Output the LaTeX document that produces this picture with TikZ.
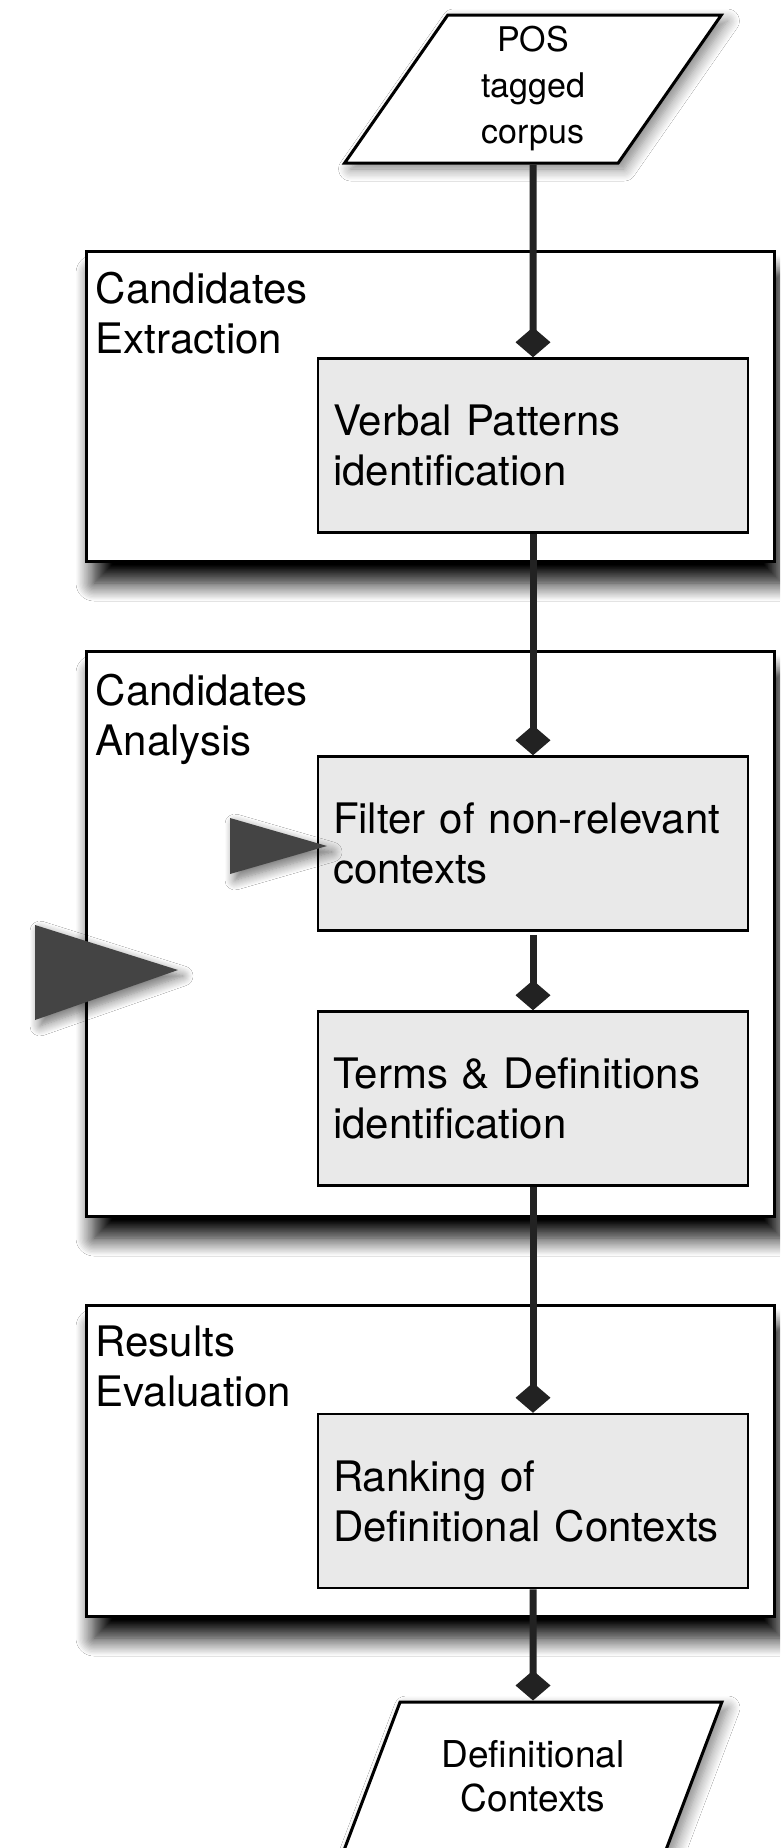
\documentclass[tikz,border=0pt]{standalone}
\usepackage{fontspec}
\setmainfont{TeX Gyre Heros}
\usepackage{tikz}
\usetikzlibrary{arrows.meta,shapes.geometric,shadows.blur}
\definecolor{taskgray}{RGB}{233,233,233}
\definecolor{flowdark}{RGB}{34,34,34}
\definecolor{pointgray}{RGB}{68,68,68}
\newcommand{\taskfont}{\fontsize{42}{50}\selectfont}
\newcommand{\infont}{\fontsize{34}{46}\selectfont}
\newcommand{\outfont}{\fontsize{37}{44}\selectfont}
\tikzset{
  stagebox/.style   = {draw=black,line width=3pt,fill=white,minimum width=688pt,inner sep=0pt,
                       blur shadow={shadow xshift=8pt,shadow yshift=-22pt,shadow blur radius=18pt,
                                    shadow blur steps=14,shadow opacity=100}},
  stagelabel/.style = {anchor=north west,inner sep=0pt,align=left,font=\taskfont},
  taskbox/.style    = {draw=black,line width=2.5pt,fill=taskgray,minimum width=430pt,minimum height=174pt,
                       text width=400pt,inner xsep=15pt,align=left,font=\taskfont},
  iobox/.style      = {trapezium,trapezium left angle=63,trapezium right angle=117,trapezium stretches=true,
                       draw=black,line width=3pt,fill=white,minimum width=378pt,minimum height=148pt,
                       align=center,
                       blur shadow={shadow xshift=6pt,shadow yshift=-6pt,shadow blur radius=12pt,
                                    shadow blur steps=10,shadow opacity=50}},
  flow/.style       = {-{Diamond[length=30pt,width=35pt]},line width=7pt,flowdark},
  pointer/.style    = {fill=pointgray,
                       blur shadow={shadow xshift=5pt,shadow yshift=-6pt,shadow blur radius=10pt,
                                    shadow blur steps=10,shadow opacity=55}}
}

\begin{document}
\begin{tikzpicture}[x=1pt,y=-1pt]
  \useasboundingbox (0,0) rectangle (780,1848);
  \fill[white] (0,0) rectangle (780,1848);
  \clip (0,0) rectangle (780,1848);

  \node[stagebox,minimum height=310pt] (ext) at (430,406) {};
  \node[stagebox,minimum height=565pt] (ana) at (430,933.5) {};
  \node[stagebox,minimum height=311pt] (eva) at (430,1460.5) {};
  \node[stagelabel] (extlabel) at ([shift={(11pt,-22pt)}]ext.north west) {Candidates\\Extraction};
  \node[stagelabel] (analabel) at ([shift={(11pt,-24pt)}]ana.north west) {Candidates\\Analysis};
  \node[stagelabel] (evalabel) at ([shift={(11pt,-22pt)}]eva.north west) {Results\\Evaluation};

  \node[taskbox] (verbal) at (533,445.5) {Verbal Patterns\\identification};
  \node[taskbox] (filter) at (533,843.5) {Filter of non-relevant\\contexts};
  \node[taskbox] (terms)  at (533,1098.5) {Terms \& Definitions\\identification};
  \node[taskbox] (rank)   at (533,1501) {Ranking of\\Definitional Contexts};

  \node[iobox,font=\infont]  (corpus) at (533,89) {POS\\tagged\\corpus};
  \node[iobox,font=\outfont] (defs)   at (533,1776) {Definitional\\Contexts};

  \fill[pointer] (230,818) -- (327,846) -- (230,874) -- cycle;
  \fill[pointer] (35,925) -- (178,970) -- (35,1020) -- cycle;

  \draw[flow] (corpus.south) -- (verbal.north);
  \draw[flow] (verbal.south) -- (filter.north);
  \draw[flow] ([yshift=-3pt]filter.south) -- (terms.north);
  \draw[flow] (terms.south) -- (rank.north);
  \draw[flow] (rank.south) -- (defs.north);
\end{tikzpicture}
\end{document}
